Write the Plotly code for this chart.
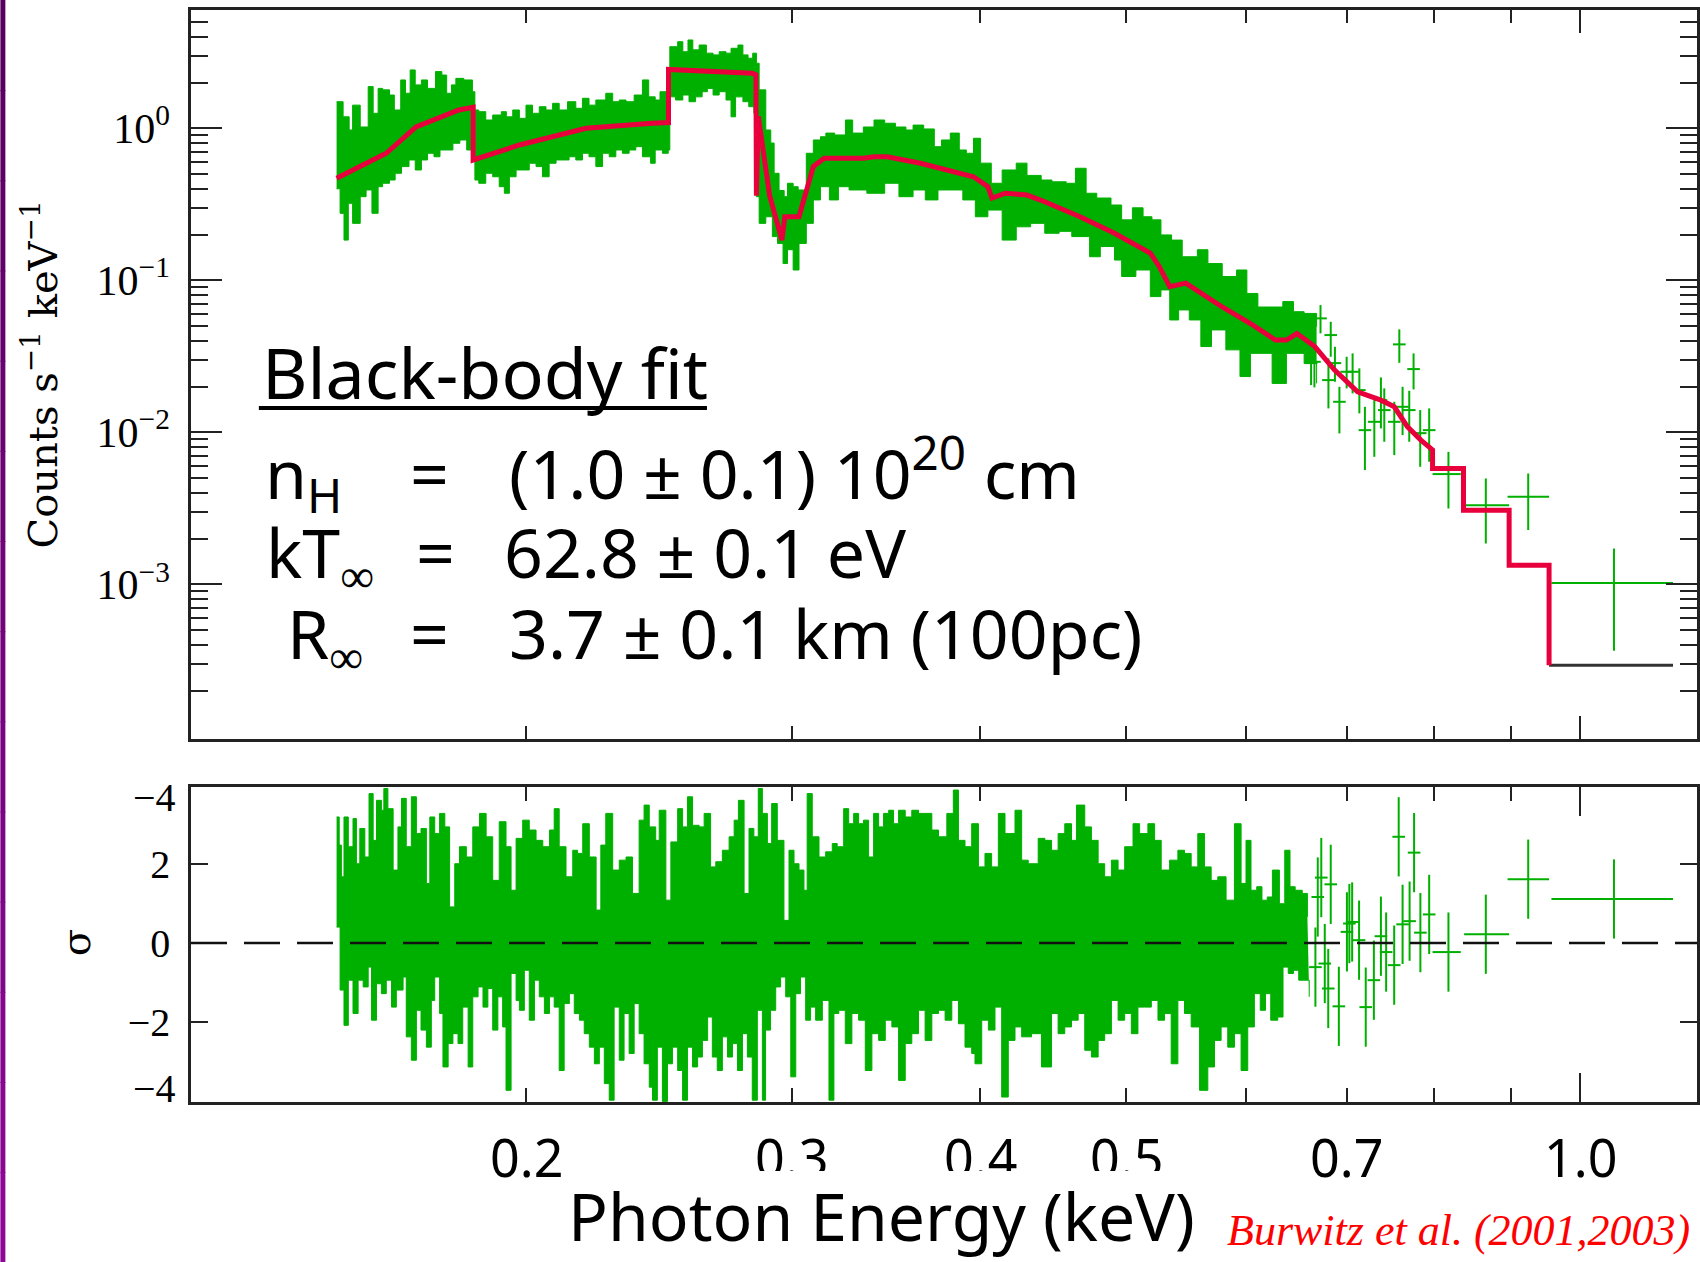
import math
import plotly.graph_objects as go

# ------------------------------------------------------------------ data
# Dense part of the spectrum: upper / lower extent of the green data (counts s^-1 keV^-1)
spec_hi_E = [0.1497, 0.1512, 0.1526, 0.1534, 0.1552, 0.1571, 0.1583, 0.1595, 0.1606, 0.1623, 0.1635, 0.1651,
             0.1663, 0.1675, 0.1688, 0.1704, 0.1720, 0.1741, 0.1758, 0.1771, 0.1784, 0.1796, 0.1818, 0.1842,
             0.1849, 0.1860, 0.1880, 0.1900, 0.1925, 0.1940, 0.1959, 0.1979, 0.1999, 0.2019, 0.2040, 0.2061,
             0.2082, 0.2103, 0.2130, 0.2157, 0.2179, 0.2201, 0.2224, 0.2258, 0.2282, 0.2305, 0.2329, 0.2358,
             0.2388, 0.2411, 0.2435, 0.2453, 0.2478,
             0.2490, 0.2520, 0.2540, 0.2560, 0.2579, 0.2604, 0.2633, 0.2660, 0.2685, 0.2713, 0.2734, 0.2763,
             0.2784, 0.2806, 0.2826, 0.2842,
             0.2854, 0.2868, 0.2883, 0.2905, 0.2920, 0.2942, 0.2965, 0.2980, 0.3006, 0.3029, 0.3067, 0.3100,
             0.3134, 0.3160, 0.3203, 0.3256, 0.3292, 0.3346, 0.3401, 0.3457, 0.3514, 0.3571, 0.3610, 0.3669,
             0.3729, 0.3770, 0.3821, 0.3874, 0.3916, 0.3959, 0.4002, 0.4068, 0.4136, 0.4226, 0.4296, 0.4390,
             0.4463, 0.4561, 0.4626, 0.4702, 0.4779, 0.4884, 0.4964, 0.5046, 0.5129, 0.5199, 0.5271, 0.5357,
             0.5445, 0.5572, 0.5663, 0.5788, 0.5916, 0.6010, 0.6112, 0.6246, 0.6349, 0.6453, 0.6559, 0.6685]
spec_hi_C = [1.496, 1.19, 0.975, 1.42, 1.02, 1.88, 1.255, 1.83, 1.79, 1.655, 1.32, 2.08,
             1.70, 2.42, 1.93, 2.08, 1.83, 2.36, 2.24, 1.70, 1.93, 2.13, 2.08, 1.74,
             1.32, 1.286, 1.134, 1.223, 1.286, 1.19, 1.32, 1.163, 1.42, 1.255, 1.387, 1.32,
             1.46, 1.32, 1.496, 1.354, 1.575, 1.42, 1.535, 1.70, 1.496, 1.535, 1.496, 1.655,
             2.08, 1.61, 1.535, 1.74, 1.496,
             3.44, 3.71, 3.19, 3.81, 3.28, 3.53, 3.12, 3.04, 3.19, 3.12, 3.36, 3.53,
             3.04, 2.89, 3.12, 2.68,
             1.79, 1.79, 0.975, 0.80, 0.506, 0.39, 0.355, 0.435, 0.413, 0.393, 0.685, 0.838,
             0.88, 0.93, 0.904, 1.134, 0.93, 1.02, 1.134, 1.08, 1.02, 0.975, 1.05, 0.99,
             0.757, 0.838, 0.93, 0.72, 0.685, 0.86, 0.59, 0.435, 0.532, 0.59, 0.49, 0.457,
             0.445, 0.435, 0.546, 0.374, 0.348, 0.313, 0.25, 0.30, 0.262, 0.25, 0.199, 0.184,
             0.143, 0.159, 0.129, 0.106, 0.117, 0.082, 0.0668, 0.0668, 0.0725, 0.0622, 0.0606, 0.0496]
spec_lo_E = [0.1497, 0.1505, 0.1514, 0.1524, 0.1534, 0.1552, 0.1566, 0.1580, 0.1595, 0.1606, 0.1623, 0.1637,
             0.1653, 0.1672, 0.1688, 0.1704, 0.1720, 0.1737, 0.1753, 0.1771, 0.1788, 0.1807, 0.1826, 0.1842,
             0.1849, 0.1860, 0.1880, 0.1900, 0.1919, 0.1934, 0.1949, 0.1969, 0.1989, 0.2009, 0.2030, 0.2050,
             0.2071, 0.2093, 0.2114, 0.2135, 0.2157, 0.2179, 0.2201, 0.2224, 0.2247, 0.2270, 0.2293, 0.2316,
             0.2340, 0.2364, 0.2388, 0.2418, 0.2435, 0.2462, 0.2484,
             0.2490, 0.2512, 0.2540, 0.2564, 0.2590, 0.2616, 0.2637, 0.2660, 0.2685, 0.2713, 0.2734, 0.2753,
             0.2784, 0.2809, 0.2831,
             0.2842, 0.2854, 0.2883, 0.2912, 0.2935, 0.2960, 0.2980, 0.3006, 0.3033, 0.3067, 0.3100, 0.3134,
             0.3177, 0.3221, 0.3274, 0.3364, 0.3457, 0.3533, 0.3610, 0.3678, 0.3750, 0.3832, 0.3895, 0.3970,
             0.4047, 0.4136, 0.4226, 0.4320, 0.4414, 0.4512, 0.4600, 0.4727, 0.4805, 0.4910, 0.4964, 0.5073,
             0.5186, 0.5271, 0.5342, 0.5415, 0.5504, 0.5602, 0.5694, 0.5820, 0.5947, 0.6043, 0.6246, 0.6384,
             0.6559, 0.6685]
spec_lo_C = [0.40, 0.276, 0.184, 0.321, 0.237, 0.355, 0.393, 0.276, 0.413, 0.435, 0.457, 0.506,
             0.56, 0.619, 0.532, 0.619, 0.685, 0.65, 0.72, 0.72, 0.797, 0.838, 0.72, 0.797,
             0.457, 0.435, 0.506, 0.48, 0.413, 0.374, 0.48, 0.532, 0.532, 0.589, 0.56, 0.48,
             0.589, 0.619, 0.619, 0.65, 0.619, 0.685, 0.65, 0.56, 0.685, 0.65, 0.72, 0.685,
             0.72, 0.757, 0.65, 0.589, 0.72, 0.685, 0.72,
             1.61, 1.535, 1.655, 1.496, 1.61, 1.74, 1.83, 1.655, 1.74, 1.535, 1.19, 1.61,
             1.496, 1.387, 1.255,
             0.355, 0.237, 0.262, 0.194, 0.175, 0.129, 0.159, 0.117, 0.175, 0.237, 0.338, 0.413,
             0.338, 0.413, 0.393, 0.374, 0.435, 0.355, 0.393, 0.338, 0.393, 0.393, 0.338, 0.262,
             0.29, 0.184, 0.225, 0.237, 0.204, 0.21, 0.194, 0.143, 0.167, 0.136, 0.106, 0.117,
             0.0782, 0.0865, 0.0549, 0.0639, 0.0549, 0.0367, 0.0472, 0.0349, 0.0233, 0.0331, 0.021, 0.0331,
             0.0284, 0.021]

# Isolated spectral bins above ~0.66 keV
iso_E = [0.6629, 0.6663, 0.6725, 0.6807, 0.6831, 0.6875, 0.6922, 0.6999, 0.7063, 0.7136, 0.7197,
         0.7301, 0.7375, 0.7413, 0.7527, 0.7585, 0.7623, 0.7701, 0.7752, 0.7831, 0.7939]
iso_C = [0.02856, 0.02913, 0.05623, 0.02208, 0.04367, 0.02856, 0.01590, 0.02505, 0.02505, 0.01898, 0.01035,
         0.01174, 0.01632, 0.01402, 0.01174, 0.03793, 0.01474, 0.01402, 0.02609, 0.00989, 0.01035]
iso_C_hi = [0.04256, 0.03657, 0.06879, 0.03067, 0.05340, 0.03657, 0.01995, 0.03143, 0.03309, 0.02637, 0.01474,
            0.01632, 0.02300, 0.01948, 0.01590, 0.04760, 0.01995, 0.01878, 0.03309, 0.01402, 0.01438]
iso_C_lo = [0.02048, 0.01977, 0.04481, 0.01438, 0.03143, 0.02152, 0.00985, 0.01948, 0.01806, 0.01334, 0.00565,
            0.00691, 0.01062, 0.00868, 0.00709, 0.02870, 0.00960, 0.00868, 0.01918, 0.00594, 0.00641]

# Wide (rebinned) bins at the highest energies
wide_E = [0.8176, 0.8656, 0.9235, 1.0527]
wide_E_lo = [0.7980, 0.8374, 0.8948, 0.9568]
wide_E_hi = [0.8331, 0.8970, 0.9534, 1.1520]
wide_C = [0.00532, 0.00332, 0.00377, 0.001024]
wide_C_hi = [0.00745, 0.00498, 0.00537, 0.001725]
wide_C_lo = [0.00316, 0.00186, 0.00228, 0.000366]

# Black-body model folded through the response
model_E = [0.1497, 0.1552, 0.1615, 0.1690, 0.1751, 0.1804, 0.1844, 0.1844, 0.1979, 0.2191, 0.2423, 0.2485,
           0.2485, 0.2823, 0.2840, 0.2842, 0.2850, 0.2870, 0.2900, 0.2955, 0.2968, 0.3033, 0.3067, 0.3100,
           0.3152, 0.3346, 0.3400, 0.3470, 0.3651, 0.3959, 0.4047, 0.4072, 0.4156, 0.4296, 0.4414, 0.4658,
           0.4910, 0.5186, 0.5258, 0.5342, 0.5475, 0.5788, 0.6043, 0.6277, 0.6384, 0.6487, 0.6667, 0.6697,
           0.6869, 0.7117, 0.7375, 0.7527, 0.7681, 0.7839, 0.7980, 0.7980, 0.8366, 0.8366, 0.8970, 0.8970,
           0.9534, 0.9534]
model_C = [0.469, 0.56, 0.685, 1.02, 1.18, 1.32, 1.375, 0.619, 0.777, 1.00, 1.08, 1.09,
           2.44, 2.30, 2.25, 0.36, 1.20, 0.70, 0.36, 0.184, 0.262, 0.262, 0.40, 0.56,
           0.635, 0.635, 0.65, 0.65, 0.589, 0.48, 0.413, 0.348, 0.374, 0.364, 0.329, 0.262,
           0.204, 0.151, 0.123, 0.091, 0.096, 0.0668, 0.052, 0.0405, 0.0405, 0.0447, 0.0367, 0.0349,
           0.0258, 0.0185, 0.0163, 0.01474, 0.01088, 0.0089, 0.00768, 0.0058, 0.0058, 0.00308, 0.00308, 0.00134,
           0.00134, 0.000294]
model_tail_E = [0.9534, 1.152]
model_tail_C = [0.000294, 0.000294]

# Residuals (sigma): upper / lower extent of the dense band
res_hi_E = [0.1497, 0.1503, 0.1508, 0.1514, 0.1524, 0.1535, 0.1543, 0.1551, 0.1563, 0.1573, 0.1583, 0.1591,
            0.1603, 0.1609, 0.1619, 0.1632, 0.1644, 0.1653, 0.1665, 0.1678, 0.1691, 0.1703, 0.1717, 0.1726,
            0.1739, 0.1752, 0.1766, 0.1779, 0.1793, 0.1806, 0.1825, 0.1843, 0.1862, 0.1881, 0.1900, 0.1919,
            0.1939, 0.1954, 0.1969, 0.1989, 0.2009, 0.2030, 0.2051, 0.2072, 0.2087, 0.2103, 0.2125, 0.2147,
            0.2163, 0.2180, 0.2202, 0.2225, 0.2241, 0.2258, 0.2282, 0.2305, 0.2329, 0.2352, 0.2376, 0.2394,
            0.2413, 0.2437, 0.2450, 0.2475, 0.2494, 0.2520, 0.2539, 0.2558, 0.2578, 0.2604, 0.2624, 0.2650,
            0.2671, 0.2698, 0.2726, 0.2747, 0.2765, 0.2789, 0.2810, 0.2831, 0.2850, 0.2868, 0.2890, 0.2909,
            0.2934, 0.2964, 0.2987, 0.3010, 0.3033, 0.3056, 0.3071, 0.3095, 0.3127, 0.3159, 0.3191, 0.3215,
            0.3247, 0.3272, 0.3297, 0.3322, 0.3347, 0.3373, 0.3399, 0.3425, 0.3451, 0.3478, 0.3504, 0.3531,
            0.3567, 0.3603, 0.3640, 0.3677, 0.3715, 0.3753, 0.3801, 0.3839, 0.3869, 0.3908, 0.3948, 0.3989,
            0.4029, 0.4070, 0.4112, 0.4154, 0.4218, 0.4261, 0.4304, 0.4370, 0.4415, 0.4460, 0.4505, 0.4551,
            0.4598, 0.4633, 0.4692, 0.4740, 0.4789, 0.4837, 0.4887, 0.4937, 0.4987, 0.5051, 0.5102, 0.5167,
            0.5220, 0.5273, 0.5341, 0.5409, 0.5464, 0.5520, 0.5576, 0.5633, 0.5691, 0.5749, 0.5822, 0.5897,
            0.5957, 0.6002, 0.6048, 0.6101, 0.6150, 0.6200, 0.6249, 0.6283, 0.6316, 0.6368, 0.6419, 0.6470,
            0.6540, 0.6592]
res_hi_S = [3.18, 2.47, 1.67, 3.18, 2.43, 3.14, 2.00, 2.89, 2.17, 3.77, 2.59, 3.60,
            3.35, 3.90, 3.39, 1.84, 2.93, 3.65, 2.43, 3.69, 2.76, 2.89, 1.50, 3.18,
            2.76, 3.27, 2.93, 0.91, 2.00, 2.43, 2.17, 2.93, 3.27, 2.68, 1.58, 3.06,
            2.43, 1.33, 2.64, 3.10, 2.85, 2.59, 2.43, 2.85, 3.39, 2.43, 1.67, 2.34,
            2.26, 3.01, 2.17, 0.83, 2.47, 3.27, 1.84, 2.09, 2.17, 1.25, 3.10, 3.48,
            2.93, 2.59, 3.35, 1.08, 2.55, 3.39, 2.93, 3.69, 2.97, 2.93, 3.27, 1.92,
            2.05, 2.34, 2.68, 3.10, 3.60, 1.25, 2.89, 2.68, 3.90, 3.27, 2.51, 3.52,
            2.59, 0.57, 2.34, 2.00, 1.84, 1.33, 3.77, 2.68, 2.17, 2.30, 2.51, 2.43,
            3.39, 3.01, 3.27, 3.01, 3.10, 2.17, 3.27, 2.93, 3.27, 3.35, 3.01, 3.35,
            3.18, 3.35, 3.27, 3.27, 2.85, 2.68, 3.27, 3.86, 2.59, 2.43, 3.01, 1.92,
            2.26, 1.92, 3.27, 2.76, 3.35, 2.09, 2.00, 2.64, 2.59, 2.34, 2.76, 3.01,
            2.59, 3.48, 2.93, 2.59, 2.00, 1.67, 2.09, 1.84, 2.43, 3.01, 2.76, 3.01,
            2.59, 1.84, 2.09, 2.34, 2.26, 1.92, 2.76, 1.92, 1.58, 1.67, 1.08, 3.01,
            1.50, 2.59, 1.33, 1.42, 1.08, 1.16, 1.84, 1.84, 0.99, 2.34, 1.42, 1.33,
            1.25, 0.66]
res_lo_E = [0.1497, 0.1505, 0.1514, 0.1524, 0.1535, 0.1547, 0.1559, 0.1571, 0.1579, 0.1591, 0.1603, 0.1615,
            0.1628, 0.1640, 0.1657, 0.1665, 0.1678, 0.1691, 0.1703, 0.1717, 0.1730, 0.1739, 0.1752, 0.1761,
            0.1775, 0.1788, 0.1802, 0.1815, 0.1830, 0.1843, 0.1858, 0.1872, 0.1886, 0.1900, 0.1915, 0.1929,
            0.1939, 0.1954, 0.1969, 0.1979, 0.1994, 0.2009, 0.2025, 0.2040, 0.2056, 0.2072, 0.2087, 0.2103,
            0.2119, 0.2136, 0.2152, 0.2169, 0.2185, 0.2202, 0.2219, 0.2236, 0.2253, 0.2270, 0.2287, 0.2305,
            0.2322, 0.2340, 0.2358, 0.2376, 0.2394, 0.2413, 0.2425, 0.2443, 0.2462, 0.2481, 0.2500, 0.2520,
            0.2539, 0.2558, 0.2578, 0.2598, 0.2617, 0.2638, 0.2657, 0.2677, 0.2698, 0.2719, 0.2740, 0.2761,
            0.2782, 0.2803, 0.2824, 0.2846, 0.2868, 0.2882, 0.2904, 0.2927, 0.2949, 0.2972, 0.2995, 0.3018,
            0.3040, 0.3064, 0.3087, 0.3111, 0.3143, 0.3175, 0.3199, 0.3223,
            0.3255, 0.3288, 0.3322, 0.3356, 0.3390, 0.3425, 0.3460, 0.3495, 0.3531, 0.3567, 0.3603, 0.3640,
            0.3677, 0.3715, 0.3753, 0.3791, 0.3830, 0.3869, 0.3908, 0.3948, 0.3968, 0.4009, 0.4050, 0.4091,
            0.4133, 0.4175, 0.4218, 0.4261, 0.4326, 0.4392, 0.4460, 0.4505, 0.4551, 0.4598, 0.4645, 0.4692,
            0.4740, 0.4789, 0.4837, 0.4887, 0.4937, 0.4987, 0.5038, 0.5089, 0.5141, 0.5194, 0.5247, 0.5300,
            0.5354, 0.5409, 0.5464, 0.5520, 0.5591, 0.5662, 0.5720, 0.5778, 0.5837, 0.5897, 0.5957, 0.6018,
            0.6079, 0.6134, 0.6183, 0.6233, 0.6300, 0.6351, 0.6402, 0.6453, 0.6505, 0.6557, 0.6610]
res_lo_S = [0.40, -1.19, -2.08, -0.94, -1.78, -0.94, -1.11, -0.61, -1.95, -1.03, -1.28, -0.94,
            -1.62, -1.19, -0.86, -2.37, -2.96, -1.70, -2.20, -2.63, -1.45, -0.86, -1.78, -3.13,
            -2.54, -2.29, -2.54, -1.62, -3.13, -1.36, -1.11, -1.62, -1.15, -2.20, -1.36, -2.12,
            -3.72, -0.77, -1.45, -1.70, -0.69, -1.95, -0.94, -1.36, -1.78, -1.36, -1.62, -3.22,
            -1.53, -1.28, -1.78, -1.95, -2.29, -2.63, -3.05, -2.63, -3.55, -3.97, -1.62, -2.96,
            -1.78, -2.79, -1.53, -2.29, -3.05, -3.64, -3.97, -2.63, -4.00, -3.05, -2.63, -3.22,
            -3.97, -2.63, -3.13, -2.88, -2.46, -1.87, -2.88, -3.22, -2.37, -2.88, -2.54, -3.22,
            -2.29, -2.88, -3.97, -1.70, -3.97, -2.20, -1.70, -1.11, -0.86, -1.36, -3.38, -1.28,
            -0.86, -1.95, -1.62, -1.95, -1.45, -3.97, -1.78, -1.70,
            -2.54, -1.78, -1.95, -3.22, -2.29, -2.46, -1.95, -2.12, -3.47, -2.54, -2.29, -1.70,
            -2.46, -1.78, -1.70, -1.95, -1.45, -2.04, -2.63, -2.79, -3.05, -1.95, -2.20, -1.62,
            -3.89, -2.46, -2.12, -2.37, -2.29, -3.13, -1.78, -2.29, -2.12, -1.95, -1.78, -2.71,
            -2.88, -2.46, -2.29, -1.45, -1.95, -1.78, -2.29, -1.62, -1.62, -1.45, -1.95, -1.78,
            -3.05, -1.45, -1.78, -2.12, -3.72, -3.13, -2.46, -2.12, -2.63, -2.29, -3.22, -2.12,
            -1.28, -1.70, -1.28, -1.95, -1.87, -0.61, -0.77, -0.69, -0.94, -0.94, -1.36]

# Isolated residual bins (error = 1 sigma)
res_iso_E = [0.6673, 0.6697, 0.6733, 0.6769, 0.6805, 0.6831, 0.6916, 0.7002, 0.7028, 0.7058, 0.7133,
             0.7206, 0.7296, 0.7375, 0.7434, 0.7526, 0.7578, 0.7623, 0.7705, 0.7758, 0.7833, 0.7939]
res_iso_S = [-0.61, 1.16, 1.65, -0.52, -1.15, 1.48, -1.60, 0.28, 0.49, 0.53, 0.07,
             -1.62, -0.94, 0.17, -0.23, -0.56, 2.68, 0.47, 0.55, 2.28, 0.26, 0.72]
res_iso_err = [1.0] * len(res_iso_E)
res_wide_S = [-0.23, 0.22, 1.61, 1.11]
res_wide_err = [1.0, 1.0, 1.0, 1.0]

# Tick labels
y_major = [1e-3, 1e-2, 1e-1, 1.0]
y_major_text = ["10<sup>\u22123</sup>", "10<sup>\u22122</sup>", "10<sup>\u22121</sup>", "10<sup>0</sup>"]
x_minor = [0.2, 0.3, 0.4, 0.5, 0.6, 0.7, 0.8, 0.9]
x_major = [1.0]
x_label_vals = [0.2, 0.3, 0.4, 0.5, 0.7, 1.0]
x_label_text = ["0.2", "0.3", "0.4", "0.5", "0.7", "1.0"]
res_ticks = [-2, 0, 2]
res_tick_text = ["\u22122", "0", "2"]

# ------------------------------------------------------------------ style
GREEN = "#00b000"
RED = "#e8003c"
AX = "#222222"
W, H = 1700, 1262
L, R, T, B = 191, 1700, 10, 1101.7


def fx(px):
    return (px - L) / (R - L)


def fy(py):
    return (B - py) / (B - T)


y_minor = [m * 10.0 ** k for k in range(-4, 1) for m in range(2, 10)]

fig = go.Figure()

# top panel: dense data band
fig.add_trace(go.Scatter(x=spec_lo_E, y=spec_lo_C, mode="lines", xaxis="x", yaxis="y",
                         line=dict(color=GREEN, width=1, shape="hv"), hoverinfo="skip"))
fig.add_trace(go.Scatter(x=spec_hi_E, y=spec_hi_C, mode="lines", xaxis="x", yaxis="y",
                         line=dict(color=GREEN, width=1, shape="hv"), fill="tonexty",
                         fillcolor=GREEN, hoverinfo="skip"))
# isolated bins
fig.add_trace(go.Scatter(
    x=iso_E, y=iso_C, mode="markers", xaxis="x", yaxis="y",
    marker=dict(symbol="line-ew", size=9, color=GREEN, line=dict(color=GREEN, width=2)),
    error_y=dict(type="data", symmetric=False,
                 array=[h - c for h, c in zip(iso_C_hi, iso_C)],
                 arrayminus=[c - l for c, l in zip(iso_C, iso_C_lo)],
                 color=GREEN, thickness=2, width=0)))
fig.add_trace(go.Scatter(
    x=wide_E, y=wide_C, mode="markers", xaxis="x", yaxis="y",
    marker=dict(size=1, color=GREEN),
    error_y=dict(type="data", symmetric=False,
                 array=[h - c for h, c in zip(wide_C_hi, wide_C)],
                 arrayminus=[c - l for c, l in zip(wide_C, wide_C_lo)],
                 color=GREEN, thickness=2, width=0),
    error_x=dict(type="data", symmetric=False,
                 array=[h - e for h, e in zip(wide_E_hi, wide_E)],
                 arrayminus=[e - l for e, l in zip(wide_E, wide_E_lo)],
                 color=GREEN, thickness=2, width=0)))
# model
fig.add_trace(go.Scatter(x=model_tail_E, y=model_tail_C, mode="lines", xaxis="x", yaxis="y",
                         line=dict(color="#333333", width=3)))
fig.add_trace(go.Scatter(x=model_E, y=model_C, mode="lines", xaxis="x", yaxis="y",
                         line=dict(color=RED, width=5)))

# residual panel
fig.add_trace(go.Scatter(x=res_lo_E, y=res_lo_S, mode="lines", xaxis="x2", yaxis="y2",
                         line=dict(color=GREEN, width=1, shape="hv"), hoverinfo="skip"))
fig.add_trace(go.Scatter(x=res_hi_E, y=res_hi_S, mode="lines", xaxis="x2", yaxis="y2",
                         line=dict(color=GREEN, width=1, shape="hv"), fill="tonexty",
                         fillcolor=GREEN, hoverinfo="skip"))
fig.add_trace(go.Scatter(
    x=res_iso_E, y=res_iso_S, mode="markers", xaxis="x2", yaxis="y2",
    marker=dict(symbol="line-ew", size=9, color=GREEN, line=dict(color=GREEN, width=2)),
    error_y=dict(type="data", array=res_iso_err, color=GREEN, thickness=2, width=0)))
fig.add_trace(go.Scatter(
    x=wide_E, y=res_wide_S, mode="markers", xaxis="x2", yaxis="y2",
    marker=dict(size=1, color=GREEN),
    error_y=dict(type="data", array=res_wide_err, color=GREEN, thickness=2, width=0),
    error_x=dict(type="data", symmetric=False,
                 array=[h - e for h, e in zip(wide_E_hi, wide_E)],
                 arrayminus=[e - l for e, l in zip(wide_E, wide_E_lo)],
                 color=GREEN, thickness=2, width=0)))

xr = [math.log10(0.11986), math.log10(1.195)]
common_x = dict(type="log", range=xr, showline=True, linecolor=AX, linewidth=2.5,
                mirror="allticks", ticks="inside", tickmode="array", tickvals=x_major,
                tickwidth=2, tickcolor=AX, showticklabels=False, showgrid=False, zeroline=False)
fig.update_layout(
    width=W, height=H, margin=dict(l=L, r=W - R, t=T, b=H - B),
    paper_bgcolor="white", plot_bgcolor="white", showlegend=False,
    xaxis=dict(common_x, anchor="y", domain=[0, 1], ticklen=23,
               minor=dict(tickmode="array", tickvals=x_minor, ticks="inside", ticklen=13,
                          tickwidth=2, tickcolor=AX, showgrid=False)),
    xaxis2=dict(common_x, anchor="y2", domain=[0, 1], ticklen=29, matches="x",
                minor=dict(tickmode="array", tickvals=x_minor, ticks="inside", ticklen=14,
                           tickwidth=2, tickcolor=AX, showgrid=False)),
    yaxis=dict(type="log", range=[-4.013, 0.778], domain=[(B - 738.3) / (B - T), 1], anchor="x",
               showline=True, linecolor=AX, linewidth=2.5, mirror="allticks", ticks="inside",
               tickmode="array", tickvals=y_major, ticktext=y_major_text, ticklen=31, tickwidth=2,
               tickcolor=AX, showgrid=False, zeroline=False, ticklabelstandoff=10,
               tickfont=dict(family="Liberation Serif", size=42, color="black"),
               minor=dict(tickmode="array", tickvals=y_minor, ticks="inside", ticklen=17,
                          tickwidth=2, tickcolor=AX, showgrid=False)),
    yaxis2=dict(range=[-4.015, 3.939], domain=[0, (B - 786.7) / (B - T)], anchor="x2",
                showline=True, linecolor=AX, linewidth=2.5, mirror="allticks", ticks="inside",
                tickmode="array", tickvals=res_ticks, ticktext=res_tick_text, ticklen=17,
                tickwidth=2, tickcolor=AX, showgrid=False, zeroline=False, ticklabelstandoff=10,
                tickfont=dict(family="Liberation Serif", size=40, color="black")),
)

shapes = []
# zero line of the residuals
shapes.append(dict(type="line", xref="x2 domain", yref="y2", x0=0, x1=1, y0=0, y1=0,
                   line=dict(color="#111111", width=2.5, dash="36px,17px"), layer="above"))
# underline of the heading
shapes.append(dict(type="line", xref="paper", yref="paper", x0=fx(259), x1=fx(708),
                   y0=fy(408), y1=fy(408), line=dict(color="black", width=4), layer="above"))
# purple strip at the left edge
n_strip = 14
for i in range(n_strip):
    t = i / (n_strip - 1)
    col = "rgb(%d,%d,%d)" % (int(88 + 52 * t), int(0 + 8 * t), int(96 + 54 * t))
    shapes.append(dict(type="rect", xref="paper", yref="paper", x0=fx(0), x1=fx(5),
                       y0=fy(i * H / n_strip + H / n_strip + 1), y1=fy(i * H / n_strip),
                       line=dict(width=0), fillcolor=col, layer="above"))
fig.update_layout(shapes=shapes)

TXT = "Noto Sans"
ann = []


def add_text(text, x, y, size, xanchor="left", yanchor="top", family=TXT, color="black", **kw):
    ann.append(dict(text=text, x=x, y=y, xref="paper", yref="paper", xanchor=xanchor,
                    yanchor=yanchor, showarrow=False, borderpad=0, borderwidth=0,
                    font=dict(family=family, size=size, color=color), **kw))


# axis titles
add_text("Counts s<sup>\u22121</sup> keV<sup>\u22121</sup>", fx(40), fy(374), 40,
         xanchor="center", yanchor="middle", family="DejaVu Serif", textangle=-90)
add_text("\u03c3", fx(76), fy(942.7), 40, xanchor="center", yanchor="middle",
         family="DejaVu Serif", textangle=-90)
# mislabelled outer residual ticks as in the original
for yv in (3.66, -3.67):
    ann.append(dict(text="\u22124", x=fx(178), y=yv, xref="paper", yref="y2", xanchor="right",
                    yanchor="middle", showarrow=False,
                    font=dict(family="Liberation Serif", size=40, color="black")))

# heading and fit parameters
add_text("Black-body fit", fx(262), fy(399 - 1.069 * 70), 70)
s = 68
for base, left_txt, left_x, eq_x, val_txt, val_x in [
        (499, "n<sub>H</sub>", 265, 430, "(1.0 \u00b1 0.1) 10<sup>20</sup> cm", 510),
        (578, "kT<sub>\u221e</sub>", 266, 436, "62.8 \u00b1 0.1 eV", 505),
        (659, "R<sub>\u221e</sub>", 287, 430, "3.7 \u00b1 0.1 km (100pc)", 510)]:
    top = fy(base - 1.069 * s)
    add_text(left_txt, fx(left_x), top, s)
    add_text("=", fx(eq_x), top, s, xanchor="center")
    if "<sup>" in val_txt:
        add_text(val_txt, fx(val_x), fy(base + 0.293 * s), s, yanchor="bottom")
    else:
        add_text(val_txt, fx(val_x), top, s)

# x tick labels
for v, t in zip(x_label_vals, x_label_text):
    ann.append(dict(text=t, x=math.log10(v), y=fy(1175.6 - 1.069 * 52), xref="x2", yref="paper",
                    xanchor="center", yanchor="top", showarrow=False, borderpad=0,
                    font=dict(family=TXT, size=52, color="black")))

# white strip of the title box that clips the middle tick labels, as in the original
ann.append(dict(text=" ", x=fx(600), y=fy(1171), xref="paper", yref="paper", xanchor="left",
                yanchor="top", width=590, height=16, bgcolor="white", borderpad=0, borderwidth=0,
                showarrow=False, font=dict(size=10)))

# x title
add_text("Photon Energy (keV)", fx(883), fy(1240 - 1.069 * 66), 66, xanchor="center")
# citation
add_text("<i>Burwitz et al. (2001,2003)</i>", fx(1229), fy(1245 - 0.891 * 44), 44,
         family="Liberation Serif", color="#ff0000")

fig.update_layout(annotations=ann)
fig.write_html("out.html")
